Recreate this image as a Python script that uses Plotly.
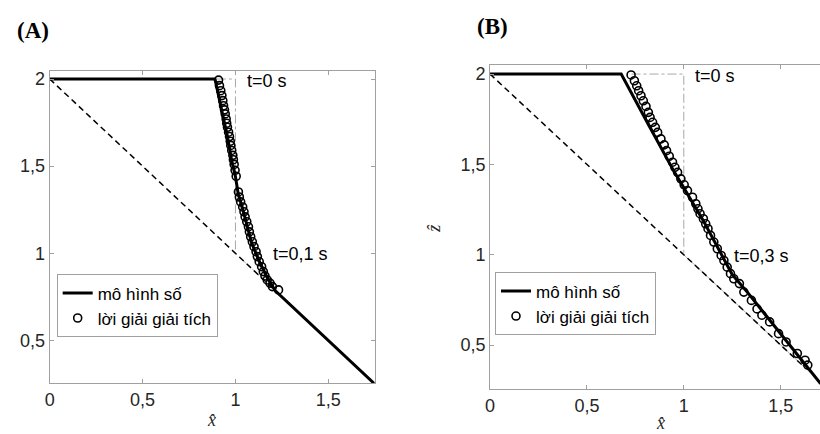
import plotly.graph_objects as go

# ---------------- Data ----------------
# Panel A (t = 0.1 s)
a_num_x = [0, 0.89, 0.93, 0.955, 0.98, 1.0, 1.015, 1.04, 1.087, 1.13, 1.176, 1.215, 1.75]
a_num_z = [2, 2, 1.80, 1.68, 1.53, 1.44, 1.34, 1.25, 1.06, 0.95, 0.85, 0.785, 0.25]
a_ana_x = [0.909, 0.914, 0.921, 0.927, 0.932, 0.936, 0.941, 0.945, 0.950, 0.953, 0.957,
           0.963, 0.968, 0.972, 0.975, 0.980, 0.986, 0.989, 0.993, 0.998, 1.004,
           1.016, 1.021, 1.028, 1.039, 1.046, 1.052, 1.061, 1.070, 1.075, 1.082,
           1.091, 1.100, 1.111, 1.118, 1.128, 1.141, 1.150, 1.159, 1.171, 1.186,
           1.199, 1.232]
a_ana_z = [1.994, 1.962, 1.933, 1.905, 1.876, 1.847, 1.823, 1.800, 1.771, 1.746, 1.723,
           1.695, 1.670, 1.643, 1.619, 1.590, 1.562, 1.537, 1.510, 1.476, 1.442,
           1.352, 1.323, 1.295, 1.266, 1.238, 1.209, 1.181, 1.152, 1.123, 1.095,
           1.066, 1.038, 1.009, 0.981, 0.952, 0.923, 0.895, 0.870, 0.847, 0.829,
           0.809, 0.790]
a_init_x = [0.9, 1.0, 1.0, 1.2]
a_init_z = [2.0, 2.0, 1.0, 0.8]
a_dash_x = [0, 1.2]
a_dash_z = [2, 0.8]

# Panel B (t = 0.3 s)
b_num_x = [0, 0.677, 0.82, 0.95, 1.02, 1.10, 1.18, 1.25, 1.33, 1.42, 1.55, 1.62, 1.703, 1.75]
b_num_z = [2, 2, 1.715, 1.46, 1.335, 1.19, 1.03, 0.89, 0.79, 0.67, 0.49, 0.40, 0.29, 0.25]
b_ana_x = [0.728, 0.745, 0.757, 0.767, 0.779, 0.791, 0.805, 0.817, 0.826, 0.839, 0.853,
           0.865, 0.882, 0.899, 0.911, 0.925, 0.942, 0.954, 0.968, 0.985, 1.002,
           1.019, 1.045, 1.062, 1.073, 1.084, 1.101, 1.113, 1.125, 1.138, 1.155,
           1.173, 1.193, 1.207, 1.224, 1.241, 1.258, 1.287, 1.310, 1.349, 1.378,
           1.403, 1.443, 1.489, 1.528, 1.586, 1.626, 1.640]
b_ana_z = [1.995, 1.963, 1.935, 1.908, 1.880, 1.852, 1.821, 1.788, 1.760, 1.733, 1.705,
           1.677, 1.641, 1.608, 1.576, 1.545, 1.512, 1.484, 1.456, 1.420, 1.387,
           1.355, 1.318, 1.282, 1.254, 1.227, 1.199, 1.171, 1.144, 1.107, 1.070,
           1.033, 0.996, 0.968, 0.931, 0.895, 0.867, 0.840, 0.793, 0.747, 0.700,
           0.665, 0.628, 0.563, 0.517, 0.453, 0.416, 0.389]
b_init_x = [0.73, 1.0, 1.0]
b_init_z = [2.0, 2.0, 1.0]
b_init2_x = [1.0, 1.65]
b_init2_z = [1.0, 0.35]
b_dash_x = [0, 1.62]
b_dash_z = [2, 0.38]

x_ticks = [0, 0.5, 1, 1.5]
x_tick_text = ["0", "0,5", "1", "1,5"]
z_ticks = [0.5, 1, 1.5, 2]
z_tick_text = ["0,5", "1", "1,5", "2"]

legend_num = "mô hình số"
legend_ana = "lời giải giải tích"

# ---------------- Figure ----------------
fig = go.Figure()

gray_thin = dict(color="#a8a8a8", width=1, dash="dashdot")
gray_solid = dict(color="#b0b0b0", width=1)
dash_line = dict(color="black", width=1.5, dash="6px,4px")
num_line = dict(color="black", width=3)
circ = dict(symbol="circle-open", size=8, color="black", line=dict(width=1.6, color="black"))

# Panel A
fig.add_trace(go.Scatter(x=a_init_x, y=a_init_z, mode="lines", line=gray_thin,
                         showlegend=False, xaxis="x", yaxis="y"))
fig.add_trace(go.Scatter(x=a_dash_x, y=a_dash_z, mode="lines", line=dash_line,
                         showlegend=False, xaxis="x", yaxis="y"))
fig.add_trace(go.Scatter(x=a_num_x, y=a_num_z, mode="lines", line=num_line,
                         name=legend_num, legend="legend", xaxis="x", yaxis="y"))
fig.add_trace(go.Scatter(x=a_ana_x, y=a_ana_z, mode="markers", marker=circ,
                         name=legend_ana, legend="legend", xaxis="x", yaxis="y"))

# Panel B
fig.add_trace(go.Scatter(x=b_init_x, y=b_init_z, mode="lines", line=gray_thin,
                         showlegend=False, xaxis="x2", yaxis="y2"))
fig.add_trace(go.Scatter(x=b_init2_x, y=b_init2_z, mode="lines", line=gray_solid,
                         showlegend=False, xaxis="x2", yaxis="y2"))
fig.add_trace(go.Scatter(x=b_dash_x, y=b_dash_z, mode="lines", line=dash_line,
                         showlegend=False, xaxis="x2", yaxis="y2"))
fig.add_trace(go.Scatter(x=b_num_x, y=b_num_z, mode="lines", line=num_line,
                         name=legend_num, legend="legend2", xaxis="x2", yaxis="y2"))
fig.add_trace(go.Scatter(x=b_ana_x, y=b_ana_z, mode="markers", marker=circ,
                         name=legend_ana, legend="legend2", xaxis="x2", yaxis="y2"))

tickfont = dict(family="Liberation Sans, Arial, sans-serif", size=18, color="#262626")
axis_common = dict(showgrid=False, zeroline=False, showline=True, linecolor="#a0a0a0",
                   linewidth=1, ticks="inside", ticklen=4, tickcolor="#a0a0a0",
                   tickfont=tickfont)

legend_common = dict(bgcolor="white", bordercolor="#a0a0a0", borderwidth=1,
                     font=dict(family="Liberation Sans, Arial, sans-serif", size=17, color="black"),
                     xanchor="left", yanchor="top", tracegroupgap=0, itemwidth=30)

fig.update_layout(
    width=820, height=434,
    margin=dict(l=0, r=0, t=0, b=0),
    paper_bgcolor="white", plot_bgcolor="white",
    xaxis=dict(domain=[45/820, 372/820], range=[0, 1.75], anchor="y", mirror="ticks",
               tickvals=x_ticks, ticktext=x_tick_text, **axis_common),
    yaxis=dict(domain=[1-383/434, 1-70/434], range=[0.255, 2.047], anchor="x", mirror="ticks",
               tickvals=z_ticks, ticktext=z_tick_text, **axis_common),
    xaxis2=dict(domain=[488/820, 1.0], range=[0, 1.703], anchor="y2", mirror="ticks",
                tickvals=x_ticks, ticktext=x_tick_text, **axis_common),
    yaxis2=dict(domain=[1-389/434, 1-64/434], range=[0.256, 2.051], anchor="x2", mirror=False,
                tickvals=z_ticks, ticktext=z_tick_text, **axis_common),
    legend=dict(x=52/820, y=1-274/434, **legend_common),
    legend2=dict(x=493/820, y=1-272/434, **legend_common),
)

ann_font = dict(family="Liberation Sans, Arial, sans-serif", size=18, color="black")
title_font = dict(family="Liberation Serif, Times New Roman, serif", size=23, color="black")
label_font = dict(family="Liberation Serif, DejaVu Serif, serif", size=18, color="#262626")

annotations = [
    dict(text="<b>(A)</b>", x=10/820, y=1-30/434, xanchor="left", yanchor="middle", font=title_font),
    dict(text="<b>(B)</b>", x=473/820, y=1-26/434, xanchor="left", yanchor="middle", font=title_font),
    dict(text="t=0 s", x=241/820, y=1-80/434, xanchor="left", yanchor="middle", font=ann_font),
    dict(text="t=0,1 s", x=268/820, y=1-254/434, xanchor="left", yanchor="middle", font=ann_font),
    dict(text="t=0 s", x=692/820, y=1-75/434, xanchor="left", yanchor="middle", font=ann_font),
    dict(text="t=0,3 s", x=731/820, y=1-256/434, xanchor="left", yanchor="middle", font=ann_font),
    dict(text="<i>x̂</i>", x=208/820, y=1-420/434, xanchor="center", yanchor="middle", font=label_font),
    dict(text="<i>x̂</i>", x=660/820, y=1-423/434, xanchor="center", yanchor="middle", font=label_font),
    dict(text="<i>ẑ</i>", x=432/820, y=1-228/434, xanchor="center", yanchor="middle",
         textangle=-90, font=label_font),
]
for a in annotations:
    a.update(xref="paper", yref="paper", showarrow=False)
fig.update_layout(annotations=annotations)

fig.write_html("out.html", config={"displayModeBar": False},
               post_script="document.body.style.margin='0';document.body.style.padding='0';")
